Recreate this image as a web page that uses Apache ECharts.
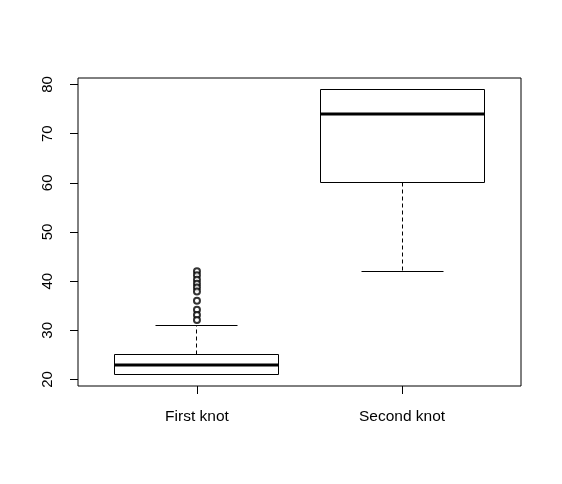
<!DOCTYPE html>
<html>
<head>
<meta charset="utf-8">
<script src="https://cdn.jsdelivr.net/npm/echarts@6/dist/echarts.min.js"></script>
<style>html,body{margin:0;padding:0;background:#fff;}#c{width:562px;height:484px;}</style>
</head>
<body>
<div id="c"></div>
<script>
var categories = ['First knot', 'Second knot'];
var whiskerLow = [21, 42];
var q1 = [21, 60];
var medians = [23, 74];
var q3 = [25, 79];
var whiskerHigh = [31, 79];
var outliersFirst = [42, 41.2, 40.3, 39.5, 38.7, 37.9, 36, 34.2, 33.1, 32.1];
var yTicks = [20, 30, 40, 50, 60, 70, 80];

var boxData = categories.map(function (c, i) {
  return [i + 1, whiskerLow[i], q1[i], medians[i], q3[i], whiskerHigh[i]];
});
var outlierData = outliersFirst.map(function (v) { return [1, v]; });

function h(v) { return Math.round(v - 0.5) + 0.5; }

function renderBox(params, api) {
  var x = api.value(0);
  var lo = api.coord([x, api.value(1)]);
  var b1 = api.coord([x, api.value(2)]);
  var md = api.coord([x, api.value(3)]);
  var b3 = api.coord([x, api.value(4)]);
  var hi = api.coord([x, api.value(5)]);
  var left = api.coord([x - 0.4, 0])[0];
  var right = api.coord([x + 0.4, 0])[0];
  var sl = api.coord([x - 0.2, 0])[0];
  var sr = api.coord([x + 0.2, 0])[0];
  var cx = h(lo[0]);
  var solid = { stroke: '#000', lineWidth: 1, fill: null };
  var dash = { stroke: '#000', lineWidth: 1, lineDash: [4, 3] };
  var children = [];
  if (Math.abs(hi[1] - b3[1]) > 0.5) {
    children.push({ type: 'line', shape: { x1: cx, y1: h(b3[1]), x2: cx, y2: h(hi[1]) }, style: dash });
  }
  if (Math.abs(lo[1] - b1[1]) > 0.5) {
    children.push({ type: 'line', shape: { x1: cx, y1: h(b1[1]), x2: cx, y2: h(lo[1]) }, style: dash });
  }
  children.push({ type: 'line', shape: { x1: h(sl), y1: h(hi[1]), x2: h(sr), y2: h(hi[1]) }, style: solid });
  children.push({ type: 'line', shape: { x1: h(sl), y1: h(lo[1]), x2: h(sr), y2: h(lo[1]) }, style: solid });
  children.push({ type: 'rect', shape: { x: h(left), y: h(b3[1]), width: Math.round(right - left), height: Math.round(b1[1] - b3[1]) }, style: { stroke: '#000', lineWidth: 1, fill: '#fff' } });
  children.push({ type: 'line', shape: { x1: h(left), y1: Math.round(md[1]), x2: h(left) + Math.round(right - left), y2: Math.round(md[1]) }, style: { stroke: '#000', lineWidth: 3 } });
  return { type: 'group', children: children };
}

var chart = echarts.init(document.getElementById('c'), null, { renderer: 'canvas' });
var font = 'Liberation Sans, Arial, sans-serif';
chart.setOption({
  animation: false,
  backgroundColor: '#fff',
  grid: { left: 78, top: 78, right: 41, bottom: 98, show: true, borderColor: '#000', borderWidth: 1, backgroundColor: 'transparent' },
  xAxis: {
    type: 'value', min: 0.42, max: 2.58,
    axisLine: { show: false },
    splitLine: { show: false },
    axisTick: { show: true, inside: false, length: 8, customValues: [1, 2], lineStyle: { color: '#000' } },
    axisLabel: { show: true, customValues: [1, 2], margin: 23, color: '#000', fontSize: 15.5, fontFamily: font,
      formatter: function (v) { return categories[Math.round(v) - 1] || ''; } }
  },
  yAxis: {
    type: 'value', min: 18.68, max: 81.32,
    axisLine: { show: false },
    splitLine: { show: false },
    axisTick: { show: true, inside: false, length: 8, customValues: yTicks, lineStyle: { color: '#000' } },
    axisLabel: { show: true, customValues: yTicks, rotate: 90, margin: 23, color: '#000', fontSize: 15, fontFamily: font }
  },
  series: [
    { type: 'custom', renderItem: renderBox, data: boxData, encode: { x: 0, y: [1, 2, 3, 4, 5] }, silent: true, z: 2 },
    { type: 'scatter', data: outlierData, symbol: 'emptyCircle', symbolSize: 6, z: 5,
      itemStyle: { color: '#000', borderColor: '#000', borderWidth: 0.8 }, silent: true }
  ]
});
</script>
</body>
</html>
